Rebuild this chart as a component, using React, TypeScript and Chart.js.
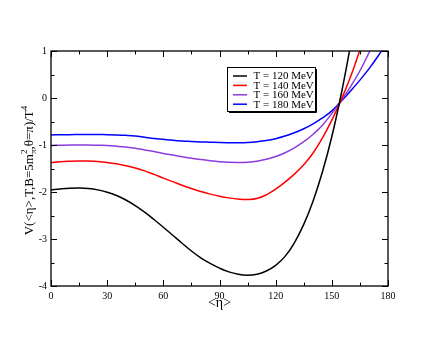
import React, { useEffect, useRef } from 'react';
import { Chart, registerables } from 'chart.js';

Chart.register(...registerables);

// <η> sample positions (degrees)
const eta = [0, 5, 10, 15, 20, 25, 30, 35, 40, 45, 50, 55, 60, 65, 70, 75, 80, 85, 90, 95, 100, 105, 110, 115, 120, 125, 130, 135, 140, 145, 150, 155, 160, 165, 170, 175, 180];

const seriesLabels = ['T = 120 MeV', 'T = 140 MeV', 'T = 160 MeV', 'T = 180 MeV'];
const seriesColors = ['#000000', '#ff0000', '#8c3cdc', '#0000ff'];

const vT120 = [-1.955, -1.935, -1.92, -1.915, -1.925, -1.955, -2.005, -2.075, -2.17, -2.29, -2.43, -2.585, -2.75, -2.92, -3.09, -3.255, -3.40, -3.52, -3.62, -3.70, -3.75, -3.77, -3.75, -3.68, -3.56, -3.37, -3.08, -2.69, -2.19, -1.57, -0.82, 0.08, 1.12, null, null, null, null];
const vT140 = [-1.375, -1.355, -1.345, -1.34, -1.34, -1.35, -1.37, -1.40, -1.44, -1.49, -1.55, -1.625, -1.705, -1.78, -1.855, -1.925, -1.99, -2.045, -2.09, -2.125, -2.15, -2.16, -2.14, -2.06, -1.94, -1.79, -1.62, -1.42, -1.17, -0.85, -0.47, -0.04, 0.45, 1.02, null, null, null];
const vT160 = [-1.01, -1.005, -1.0, -1.0, -1.0, -1.005, -1.01, -1.025, -1.045, -1.07, -1.105, -1.14, -1.18, -1.215, -1.25, -1.28, -1.31, -1.335, -1.355, -1.367, -1.37, -1.365, -1.345, -1.305, -1.245, -1.165, -1.06, -0.93, -0.77, -0.58, -0.33, -0.06, 0.24, 0.58, 0.98, 1.45, null];
const vT180 = [-0.785, -0.783, -0.78, -0.778, -0.778, -0.778, -0.78, -0.785, -0.795, -0.81, -0.835, -0.86, -0.88, -0.90, -0.915, -0.925, -0.935, -0.942, -0.948, -0.95, -0.95, -0.945, -0.93, -0.905, -0.865, -0.81, -0.74, -0.655, -0.55, -0.425, -0.275, -0.07, 0.15, 0.38, 0.63, 0.91, 1.22];

const xMin = 0, xMax = 180, xStep = 30;
const yMin = -4, yMax = 1, yStep = 1;

const SERIF = '"Liberation Serif", "Times New Roman", serif';

function toPoints(vals: (number | null)[]) {
  return eta.map((x, i) => ({ x, y: vals[i] })).filter((p) => p.y !== null);
}

const framePlugin = {
  id: 'frameTicks',
  afterDraw(chart: any) {
    const { ctx, chartArea: a, scales } = chart;
    const xs = scales.x, ys = scales.y;
    ctx.save();
    ctx.strokeStyle = '#000';
    ctx.lineWidth = 1.3;
    ctx.strokeRect(a.left, a.top, a.right - a.left, a.bottom - a.top);
    ctx.lineWidth = 1;
    const line = (x1: number, y1: number, x2: number, y2: number) => {
      ctx.beginPath(); ctx.moveTo(x1, y1); ctx.lineTo(x2, y2); ctx.stroke();
    };
    for (let v = xMin; v <= xMax + 1e-9; v += xStep / 2) {
      const p = Math.round(xs.getPixelForValue(v)) + 0.5;
      const major = Math.abs(v / xStep - Math.round(v / xStep)) < 1e-6;
      const len = major ? 6 : 3.5;
      line(p, a.bottom, p, a.bottom - len);
      line(p, a.top, p, a.top + len);
    }
    for (let v = yMin; v <= yMax + 1e-9; v += yStep / 2) {
      const p = Math.round(ys.getPixelForValue(v)) + 0.5;
      const major = Math.abs(v / yStep - Math.round(v / yStep)) < 1e-6;
      const len = major ? 6 : 3.5;
      line(a.left, p, a.left + len, p);
      line(a.right, p, a.right - len, p);
    }

    // x title
    ctx.fillStyle = '#000';
    ctx.font = `14px ${SERIF}`;
    ctx.textAlign = 'center';
    ctx.textBaseline = 'alphabetic';
    ctx.fillText('<η>', (a.left + a.right) / 2, 307);

    // y title with sub/superscripts
    const segs: { t: string; size: number; dy: number; stackWithPrev?: boolean }[] = [
      { t: 'V(<η>,T,B=5m', size: 13, dy: 0 },
      { t: 'π', size: 9, dy: 3 },
      { t: '2', size: 9, dy: -6, stackWithPrev: true },
      { t: ',θ=π)/T', size: 13, dy: 0 },
      { t: '4', size: 9, dy: -6 },
    ];
    let total = 0;
    const widths: number[] = [];
    segs.forEach((s, i) => {
      ctx.font = `${s.size}px ${SERIF}`;
      const w = ctx.measureText(s.t).width;
      widths.push(w);
      if (s.stackWithPrev) {
        total += Math.max(0, w - widths[i - 1]);
      } else total += w;
    });
    ctx.translate(33, (a.top + a.bottom) / 2 + 2);
    ctx.rotate(-Math.PI / 2);
    ctx.textAlign = 'left';
    let x = -total / 2;
    let prevX = x;
    segs.forEach((s, i) => {
      ctx.font = `${s.size}px ${SERIF}`;
      if (s.stackWithPrev) {
        ctx.fillText(s.t, prevX, s.dy);
        x = prevX + Math.max(widths[i], widths[i - 1]);
      } else {
        ctx.fillText(s.t, x, s.dy);
        prevX = x;
        x += widths[i];
      }
    });
    ctx.restore();
  },
};

const legendPlugin = {
  id: 'boxLegend',
  afterDraw(chart: any) {
    const { ctx, chartArea: a } = chart;
    const left = a.left + 176.5, top = a.top + 16.5, w = 88, h = 44;
    ctx.save();
    ctx.fillStyle = '#fff';
    ctx.fillRect(left, top, w, h);
    ctx.strokeStyle = '#000';
    ctx.lineWidth = 1;
    ctx.strokeRect(left, top, w, h);
    ctx.beginPath();
    ctx.moveTo(left + 1.5, top + h + 1);
    ctx.lineTo(left + w + 1, top + h + 1);
    ctx.lineTo(left + w + 1, top + 1.5);
    ctx.stroke();
    ctx.font = `11px ${SERIF}`;
    ctx.textBaseline = 'middle';
    ctx.textAlign = 'left';
    chart.data.datasets.forEach((ds: any, i: number) => {
      const y = top + 8.5 + i * 9.4;
      ctx.strokeStyle = ds.borderColor;
      ctx.lineWidth = 1.5;
      ctx.beginPath();
      ctx.moveTo(left + 5.5, y);
      ctx.lineTo(left + 19.5, y);
      ctx.stroke();
      ctx.fillStyle = '#000';
      ctx.fillText(ds.label, left + 26, y + 0.5);
    });
    ctx.restore();
  },
};

export default function App() {
  const ref = useRef<HTMLCanvasElement | null>(null);
  useEffect(() => {
    if (!ref.current) return;
    const all = [vT120, vT140, vT160, vT180];
    const chart = new Chart(ref.current, {
      type: 'line',
      data: {
        datasets: all.map((vals, i) => ({
          label: seriesLabels[i],
          data: toPoints(vals) as any,
          borderColor: seriesColors[i],
          backgroundColor: seriesColors[i],
          borderWidth: 1.5,
          pointRadius: 0,
          fill: false,
          tension: 0.4,
        })),
      },
      options: {
        responsive: false,
        animation: false,
        devicePixelRatio: 1,
        layout: { padding: { left: 0, top: 51, right: 48, bottom: 0 } },
        plugins: {
          legend: { display: false },
          tooltip: { enabled: false },
        },
        scales: {
          x: {
            type: 'linear',
            min: xMin,
            max: xMax,
            grid: { display: false, drawTicks: false },
            border: { display: false },
            ticks: { stepSize: xStep, padding: 4, color: '#000', font: { family: SERIF, size: 10 }, maxRotation: 0 },
            afterFit: (s: any) => { s.height = 51; },
          },
          y: {
            type: 'linear',
            min: yMin,
            max: yMax,
            grid: { display: false, drawTicks: false },
            border: { display: false },
            ticks: { stepSize: yStep, padding: 4, color: '#000', font: { family: SERIF, size: 10 } },
            afterFit: (s: any) => { s.width = 51; },
          },
        },
      },
      plugins: [framePlugin, legendPlugin],
    });
    return () => chart.destroy();
  }, []);
  return (
    <div style={{ position: 'fixed', left: 0, top: 0, width: 436, height: 337, background: '#fff' }}>
      <canvas ref={ref} width={436} height={337} style={{ width: 436, height: 337, display: 'block' }} />
    </div>
  );
}
